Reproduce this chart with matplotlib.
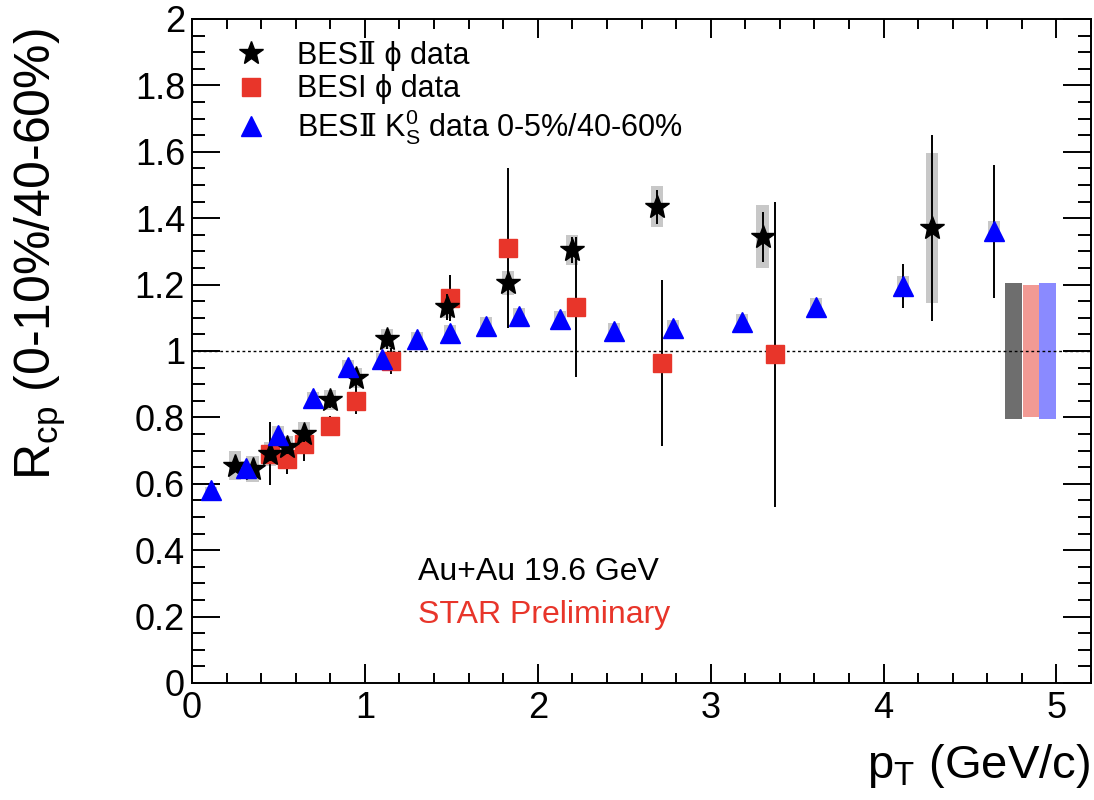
import numpy as np
import matplotlib
matplotlib.use("Agg")
import matplotlib.pyplot as plt
from matplotlib.ticker import MultipleLocator

plt.rcParams['font.family'] = ['Liberation Sans', 'DejaVu Serif']
plt.rcParams['mathtext.fontset'] = 'custom'
plt.rcParams['mathtext.rm'] = 'Liberation Sans'
plt.rcParams['mathtext.it'] = 'Liberation Sans:italic'
plt.rcParams['mathtext.bf'] = 'Liberation Sans:bold'
plt.rcParams['mathtext.cal'] = 'DejaVu Serif'

# BESII phi (stars)
phi2_pt = [0.25, 0.35, 0.45, 0.55, 0.65, 0.80, 0.95, 1.13, 1.475, 1.83, 2.20, 2.69, 3.30, 4.28]
phi2_rcp = [0.655, 0.645, 0.69, 0.71, 0.75, 0.852, 0.92, 1.035, 1.133, 1.205, 1.304, 1.434, 1.344, 1.37]
phi2_stat = [0.02, 0.02, 0.02, 0.02, 0.025, 0.025, 0.03, 0.03, 0.04, 0.04, 0.04, 0.05, 0.075, 0.28]
phi2_sys = [0.045, 0.04, 0.035, 0.035, 0.035, 0.03, 0.03, 0.03, 0.035, 0.035, 0.045, 0.062, 0.095, 0.225]

# BESI phi (squares)
phi1_pt = [0.45, 0.55, 0.65, 0.80, 0.95, 1.15, 1.49, 1.83, 2.22, 2.72, 3.37]
phi1_rcp = [0.69, 0.675, 0.72, 0.775, 0.85, 0.97, 1.16, 1.31, 1.133, 0.965, 0.99]
phi1_err = [0.095, 0.045, 0.05, 0.03, 0.04, 0.04, 0.07, 0.24, 0.21, 0.25, 0.46]

# BESII K0S (triangles)
k0s_pt = [0.11, 0.31, 0.50, 0.70, 0.90, 1.10, 1.30, 1.49, 1.70, 1.89, 2.13, 2.44, 2.78, 3.18, 3.61, 4.11, 4.64]
k0s_rcp = [0.58, 0.648, 0.748, 0.858, 0.952, 0.975, 1.036, 1.054, 1.076, 1.105, 1.096, 1.06, 1.068, 1.087, 1.133, 1.197, 1.361]
k0s_stat = [0.01, 0.01, 0.01, 0.01, 0.01, 0.01, 0.01, 0.01, 0.01, 0.01, 0.01, 0.01, 0.01, 0.01, 0.015, 0.066, 0.2]
k0s_sys = [0.01, 0.02, 0.025, 0.02, 0.02, 0.02, 0.02, 0.025, 0.025, 0.025, 0.025, 0.025, 0.025, 0.025, 0.028, 0.03, 0.03]

# normalization uncertainties (black, red, blue)
norm_x = [4.754, 4.853, 4.951]
norm_err = [0.205, 0.2, 0.205]
norm_col = ['#6e6e6e', '#f29a94', '#8a8aff']

fig = plt.figure(figsize=(10.94, 8.0), dpi=100)
ax = fig.add_axes([192 / 1094, 1 - 683 / 800, (1091 - 192) / 1094, (683 - 19) / 800])

# sys boxes
ax.bar(phi2_pt, [2 * s for s in phi2_sys], width=0.07,
       bottom=[r - s for r, s in zip(phi2_rcp, phi2_sys)], color='#c8c8c8', zorder=1)
ax.bar(k0s_pt, [2 * s for s in k0s_sys], width=0.07,
       bottom=[r - s for r, s in zip(k0s_rcp, k0s_sys)], color='#c8c8c8', zorder=1)

# normalization boxes
ax.bar(norm_x, [2 * e for e in norm_err], width=0.098,
       bottom=[1 - e for e in norm_err], color=norm_col, zorder=1)

ax.axhline(1.0, color='black', lw=1.0, ls=(0, (2, 2)), zorder=2)

sq = ax.errorbar(phi1_pt, phi1_rcp, yerr=phi1_err, fmt='s', ms=13.5, color='#e8352a',
                 ecolor='black', elinewidth=1.4, capsize=0, zorder=3)
st = ax.errorbar(phi2_pt, phi2_rcp, yerr=phi2_stat, fmt='*', ms=18, color='black',
                 ecolor='black', elinewidth=1.4, capsize=0, zorder=4)
tr = ax.errorbar(k0s_pt, k0s_rcp, yerr=k0s_stat, fmt='^', ms=14, color='#0000ff',
                 ecolor='black', elinewidth=1.4, capsize=0, zorder=5)

ax.set_xlim(0, 5.2)
ax.set_ylim(0, 2)
ax.xaxis.set_major_locator(MultipleLocator(1))
ax.xaxis.set_minor_locator(MultipleLocator(0.2))
ax.yaxis.set_major_locator(MultipleLocator(0.2))
ax.yaxis.set_minor_locator(MultipleLocator(0.05))
ax.yaxis.set_major_formatter(plt.FuncFormatter(lambda v, p: f"{v:g}"))
ax.tick_params(axis='both', which='both', direction='in', top=True, right=True,
               width=1.4, labelsize=26)
ax.tick_params(axis='x', which='major', length=14, pad=6)
ax.tick_params(axis='x', which='minor', length=7)
ax.tick_params(axis='y', which='major', length=20, pad=5)
ax.tick_params(axis='y', which='minor', length=9.5)
for sp in ax.spines.values():
    sp.set_linewidth(1.4)

ax.legend([st[0], sq[0], tr[0]],
          ['BESⅡ ϕ data', 'BESI ϕ data',
           'BES$\\mathcal{Ⅱ}$ $\\mathregular{K^0_S}$ data 0-5%/40-60%'],
          loc='upper left', bbox_to_anchor=(0.035, 0.985), frameon=False, fontsize=22,
          handlelength=1.0, handletextpad=1.0, labelspacing=0.1, borderaxespad=0)

fig.text(418 / 1094, 1 - 572 / 800, 'Au+Au 19.6 GeV', fontsize=23, va='center')
fig.text(418 / 1094, 1 - 615 / 800, 'STAR Preliminary', fontsize=23, color='#e8352a',
         va='center')

fig.text(1090 / 1094, 1 - 778 / 800, 'p$_{\\mathregular{T}}$ (GeV/c)', fontsize=34,
         ha='right', va='baseline')
fig.text(40 / 1094, 1 - 28 / 800, 'R$_{\\mathregular{cp}}$ (0-10%/40-60%)', fontsize=36,
         rotation=90, ha='center', va='top')

fig.savefig('out.png', dpi=100)
